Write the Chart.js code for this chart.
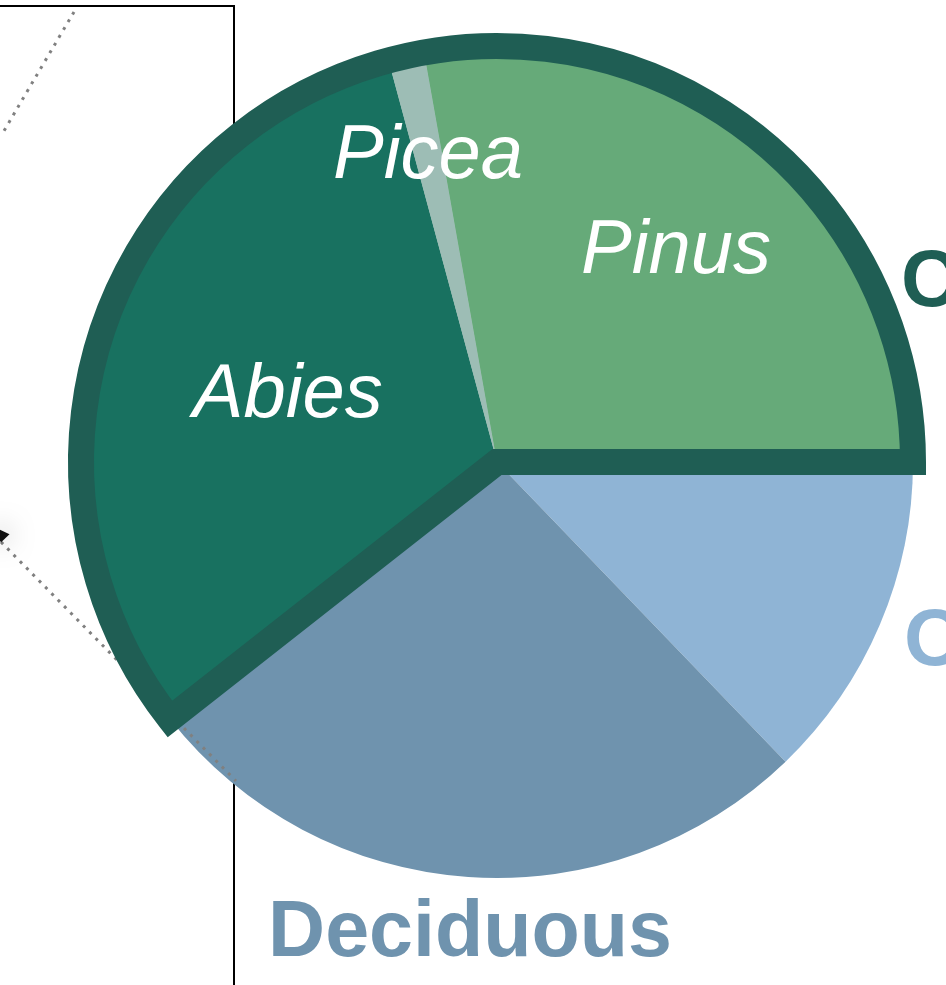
<!DOCTYPE html>
<html>
<head>
<meta charset="utf-8">
<title>Forest composition</title>
<script src="https://cdn.jsdelivr.net/npm/chart.js@4/dist/chart.umd.min.js"></script>
<style>
  html, body { margin: 0; padding: 0; background: #fff; overflow: hidden; }
  #wrap { position: relative; width: 946px; height: 985px; }
</style>
</head>
<body>
<div id="wrap"><canvas id="pieChart" width="946" height="985"></canvas></div>
<script>
// slices, clockwise from 3 o'clock (values in % of the pie)
const categories = ["Other", "Deciduous", "Abies", "Picea", "Pinus"];
const shares = [12.8, 26.6, 31.4, 1.4, 27.8];
const sliceColors = ["#8fb4d5", "#6f93ae", "#187160", "#9dbdb5", "#66aa79"];

// which slices belong to the conifer group (outlined)
const coniferNames = ["Abies", "Picea", "Pinus"];
// labels written inside the conifer slices, with their distance from the center (fraction of radius)
const innerLabels = ["Abies", "Picea", "Pinus"];
const innerLabelRadius = [0.53, 0.76, 0.67];

const groupLabels = ["Conifer", "Other", "Deciduous"];

const FONT = '"Liberation Sans", Arial, Helvetica, sans-serif';
const BORDER_GREEN = "#1f5e54";

// left panel bits (box edge, dotted leaders) drawn behind the pie
const backgroundBits = {
  id: "backgroundBits",
  beforeDatasetsDraw(chart) {
    const ctx = chart.ctx;
    ctx.save();
    // box corner
    ctx.strokeStyle = "#000";
    ctx.lineWidth = 2;
    ctx.beginPath();
    ctx.moveTo(0, 6);
    ctx.lineTo(234, 6);
    ctx.lineTo(234, 985);
    ctx.stroke();
    // dotted curve at top left
    ctx.strokeStyle = "#808080";
    ctx.lineWidth = 3;
    ctx.setLineDash([3, 6]);
    ctx.beginPath();
    ctx.moveTo(74, 12);
    ctx.quadraticCurveTo(42, 66, 1, 136);
    ctx.stroke();
    ctx.restore();
  }
};

// dotted leader, conifer outline and labels drawn on top
const overlay = {
  id: "overlay",
  afterDatasetsDraw(chart) {
    const ctx = chart.ctx;
    const arcs = chart.getDatasetMeta(0).data;

    // dotted leader with arrow (goes over Deciduous, under the conifers)
    ctx.save();
    ctx.strokeStyle = "#808080";
    ctx.lineWidth = 3;
    ctx.setLineDash([3, 6]);
    ctx.beginPath();
    ctx.moveTo(1, 542);
    ctx.lineTo(236, 781);
    ctx.stroke();
    ctx.setLineDash([]);
    ctx.shadowColor = "rgba(0,0,0,0.5)";
    ctx.shadowBlur = 26;
    ctx.fillStyle = "#111";
    ctx.beginPath();
    ctx.moveTo(-6, 527);
    ctx.lineTo(9.5, 534.2);
    ctx.lineTo(0.9, 542.6);
    ctx.closePath();
    ctx.fill();
    ctx.restore();

    // redraw conifer slices over the leader
    const coniferIdx = coniferNames.map(n => categories.indexOf(n));
    coniferIdx.forEach(i => arcs[i].draw(ctx));

    // thick outline round the conifer group
    const first = arcs[coniferIdx[0]];
    const last = arcs[coniferIdx[coniferIdx.length - 1]];
    ctx.save();
    ctx.strokeStyle = BORDER_GREEN;
    ctx.lineWidth = 26;
    ctx.lineJoin = "miter";
    ctx.miterLimit = 10;
    ctx.beginPath();
    ctx.moveTo(first.x, first.y);
    ctx.arc(first.x, first.y, first.outerRadius, first.startAngle, last.endAngle);
    ctx.closePath();
    ctx.stroke();
    ctx.restore();

    // italic labels inside the conifer slices
    ctx.save();
    ctx.fillStyle = "#fff";
    ctx.font = "italic 76px " + FONT;
    ctx.textAlign = "center";
    ctx.textBaseline = "middle";
    innerLabels.forEach((name, k) => {
      const a = arcs[categories.indexOf(name)];
      const mid = (a.startAngle + a.endAngle) / 2;
      const r = a.outerRadius * innerLabelRadius[k];
      ctx.fillText(name, a.x + Math.cos(mid) * r, a.y + Math.sin(mid) * r + 3);
    });
    ctx.restore();

    // group labels round the pie
    ctx.save();
    ctx.font = "bold 80px " + FONT;
    ctx.textBaseline = "alphabetic";
    ctx.textAlign = "left";
    ctx.fillStyle = BORDER_GREEN;
    ctx.fillText(groupLabels[0], 901, 306);
    ctx.fillStyle = sliceColors[0];
    ctx.fillText(groupLabels[1], 904, 665);
    ctx.font = "bold 79px " + FONT;
    ctx.textAlign = "center";
    ctx.fillStyle = sliceColors[1];
    ctx.fillText(groupLabels[2], 470, 956);
    ctx.restore();
  }
};

new Chart(document.getElementById("pieChart"), {
  type: "pie",
  data: {
    labels: categories,
    datasets: [{
      data: shares,
      backgroundColor: sliceColors,
      borderWidth: 0,
      hoverOffset: 0
    }]
  },
  options: {
    responsive: false,
    animation: false,
    events: [],
    rotation: 90,
    layout: { padding: { left: 81, right: 33, top: 46, bottom: 107 } },
    plugins: {
      legend: { display: false },
      tooltip: { enabled: false }
    }
  },
  plugins: [backgroundBits, overlay]
});
</script>
</body>
</html>
